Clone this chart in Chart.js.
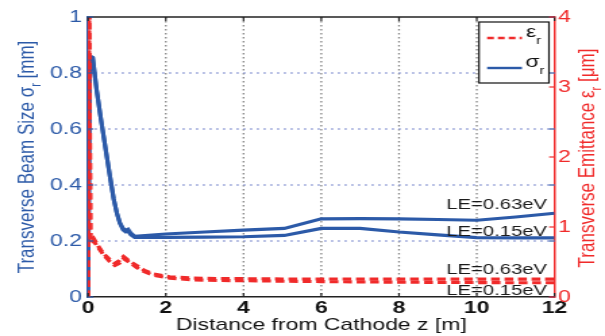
<!DOCTYPE html>
<html>
<head>
<meta charset="utf-8">
<script src="https://cdn.jsdelivr.net/npm/chart.js@4.4.1/dist/chart.umd.min.js"></script>
<style>
  html, body { margin: 0; padding: 0; background: #fff; overflow: hidden; }
  #wrap { width: 448px; height: 336px; transform: scaleX(1.35045); transform-origin: 0 0; }
  canvas { display: block; }
</style>
</head>
<body>
<div id="wrap"><canvas id="c" width="448" height="336"></canvas></div>
<script>
// ---- data ----
const xTickValues = [0, 2, 4, 6, 8, 10, 12];
const sigmaTickValues = [0, 0.2, 0.4, 0.6, 0.8, 1];
const emitTickValues = [0, 1, 2, 3, 4];

// beam size sigma_r [mm] vs z [m]
const zSigma   = [0, 0.05, 0.12, 0.22, 0.33, 0.45, 0.57, 0.66, 0.74, 0.82, 0.9, 0.97, 1.03, 1.1, 1.2, 2, 3, 4, 5.05, 6, 7, 8, 9, 10, 11, 12];
const sigma063 = [0.02, 0.86, 0.855, 0.74, 0.636, 0.53, 0.425, 0.35, 0.30, 0.265, 0.245, 0.238, 0.242, 0.228, 0.217, 0.225, 0.232, 0.239, 0.245, 0.279, 0.28, 0.279, 0.277, 0.274, 0.286, 0.299];
const sigma015 = [0.02, 0.86, 0.855, 0.74, 0.636, 0.53, 0.425, 0.35, 0.30, 0.262, 0.24, 0.233, 0.236, 0.222, 0.213, 0.213, 0.214, 0.215, 0.22, 0.245, 0.245, 0.232, 0.222, 0.212, 0.211, 0.211];

// emittance eps_r [um] vs z [m]
const zEps   = [0, 0.025, 0.06, 0.14, 0.27, 0.4, 0.55, 0.69, 0.8, 0.91, 1.05, 1.25, 1.45, 1.68, 2.1, 2.7, 3.4, 4, 5, 6, 7, 8, 9, 10, 11, 12];
const eps063 = [0, 4.6, 0.8, 0.84, 0.72, 0.62, 0.54, 0.48, 0.52, 0.58, 0.52, 0.45, 0.38, 0.33, 0.29, 0.27, 0.262, 0.262, 0.258, 0.258, 0.256, 0.256, 0.256, 0.255, 0.255, 0.255];
const eps015 = [0, 4.6, 0.78, 0.8, 0.7, 0.6, 0.51, 0.45, 0.48, 0.55, 0.5, 0.42, 0.36, 0.31, 0.27, 0.245, 0.235, 0.232, 0.226, 0.22, 0.215, 0.212, 0.208, 0.206, 0.204, 0.203];

const curveLabels = ['LE=0.63eV', 'LE=0.15eV'];

// ---- style ----
const BLUE = '#2c5aa8';
const RED = '#f02a2a';
const FONT = '"Liberation Sans", Arial, Helvetica, sans-serif';

const pts = (xs, ys) => xs.map((x, i) => ({ x: x, y: ys[i] }));

function drawGrid(chart) {
  const ctx = chart.ctx;
  const a = chart.chartArea;
  const xs = chart.scales.x, ys = chart.scales.y;
  ctx.save();
  ctx.lineWidth = 1.3;
  ctx.setLineDash([1.5, 2.5]);
  ctx.strokeStyle = '#858585';
  xTickValues.slice(1, -1).forEach(v => {
    const px = xs.getPixelForValue(v);
    ctx.beginPath(); ctx.moveTo(px, a.top); ctx.lineTo(px, a.bottom); ctx.stroke();
  });
  ctx.strokeStyle = '#8794d2';
  ctx.setLineDash([1.5, 3.5]);
  sigmaTickValues.slice(1, -1).forEach(v => {
    const py = ys.getPixelForValue(v);
    ctx.beginPath(); ctx.moveTo(a.left, py); ctx.lineTo(a.right, py); ctx.stroke();
  });
  ctx.restore();
}

const framePlugin = {
  id: 'frame',
  beforeDatasetsDraw(chart) { drawGrid(chart); },
  afterDraw(chart) {
    const ctx = chart.ctx;
    const a = chart.chartArea;
    const xs = chart.scales.x, ys = chart.scales.y, y1 = chart.scales.y1;
    ctx.save();
    ctx.strokeStyle = '#222';
    ctx.lineWidth = 1.4;
    ctx.beginPath(); ctx.moveTo(a.left, a.top); ctx.lineTo(a.right, a.top); ctx.stroke();
    const tl = 4;
    ctx.lineWidth = 1.2;
    ctx.strokeStyle = '#222';
    xTickValues.forEach(v => {
      const px = xs.getPixelForValue(v);
      ctx.beginPath(); ctx.moveTo(px, a.bottom); ctx.lineTo(px, a.bottom - tl); ctx.stroke();
      ctx.beginPath(); ctx.moveTo(px, a.top); ctx.lineTo(px, a.top + tl); ctx.stroke();
    });
    ctx.strokeStyle = BLUE;
    sigmaTickValues.forEach(v => {
      const py = ys.getPixelForValue(v);
      ctx.beginPath(); ctx.moveTo(a.left, py); ctx.lineTo(a.left + tl, py); ctx.stroke();
      ctx.beginPath(); ctx.moveTo(a.right, py); ctx.lineTo(a.right - tl, py); ctx.stroke();
    });
    ctx.strokeStyle = RED;
    emitTickValues.forEach(v => {
      const py = y1.getPixelForValue(v);
      ctx.beginPath(); ctx.moveTo(a.right, py); ctx.lineTo(a.right - tl, py); ctx.stroke();
    });

    ctx.textBaseline = 'alphabetic';
    ctx.textAlign = 'left';
    function subText(parts, cx, baseY) {
      let total = 0;
      parts.forEach(p => { ctx.font = p[1] + 'px ' + FONT; total += ctx.measureText(p[0]).width; });
      let x = cx - total / 2;
      parts.forEach(p => {
        ctx.font = p[1] + 'px ' + FONT;
        ctx.fillText(p[0], x, baseY + p[2]);
        x += ctx.measureText(p[0]).width;
      });
    }
    ctx.save();
    ctx.fillStyle = BLUE;
    ctx.translate(24.5, 157);
    ctx.rotate(-Math.PI / 2);
    subText([['Transverse Beam Size σ', 17, 0], ['r', 11, 5], [' [mm]', 17, 0]], 0, 0);
    ctx.restore();
    ctx.save();
    ctx.fillStyle = RED;
    ctx.translate(440, 158);
    ctx.rotate(-Math.PI / 2);
    subText([['Transverse Emittance ε', 17, 0], ['r', 11, 5], [' [μm]', 17, 0]], 0, 0);
    ctx.restore();
    ctx.fillStyle = '#111';
    subText([['Distance from Cathode z [m]', 17, 0]], (a.left + a.right) / 2, 330);

    ctx.font = '15px ' + FONT;
    ctx.textAlign = 'right';
    ctx.textBaseline = 'middle';
    ctx.fillStyle = '#1a1a1a';
    const lx = a.right - 5.5;
    ctx.fillText(curveLabels[0], lx, 205);
    ctx.fillText(curveLabels[1], lx, 232);
    ctx.fillText(curveLabels[0], lx, 270);
    ctx.fillText(curveLabels[1], lx, 290.5);

    const bx = 354.7, by = 22, bw = 51.8, bh = 61;
    ctx.fillStyle = '#fff';
    ctx.fillRect(bx, by, bw, bh);
    ctx.strokeStyle = '#111';
    ctx.lineWidth = 1.2;
    ctx.strokeRect(bx, by, bw, bh);
    ctx.lineWidth = 2.4;
    ctx.strokeStyle = RED;
    ctx.setLineDash([5, 3]);
    ctx.beginPath(); ctx.moveTo(360.7, 38); ctx.lineTo(386.5, 38); ctx.stroke();
    ctx.setLineDash([]);
    ctx.strokeStyle = BLUE;
    ctx.beginPath(); ctx.moveTo(360.7, 68); ctx.lineTo(386.5, 68); ctx.stroke();
    ctx.fillStyle = '#111';
    ctx.textAlign = 'left';
    ctx.textBaseline = 'alphabetic';
    ctx.font = '17px ' + FONT;
    ctx.fillText('ε', 389.5, 37);
    ctx.fillText('σ', 389, 66.5);
    const ew = ctx.measureText('ε').width, sw = ctx.measureText('σ').width;
    ctx.font = '11px ' + FONT;
    ctx.fillText('r', 389.5 + ew, 44);
    ctx.fillText('r', 389 + sw, 74);
    ctx.restore();
  }
};

new Chart(document.getElementById('c'), {
  type: 'line',
  data: {
    datasets: [
      { label: 'eps 0.63', data: pts(zEps, eps063), yAxisID: 'y1', borderColor: RED, borderWidth: 3.1, borderDash: [6.5, 3.5], pointRadius: 0, fill: false, tension: 0, order: 0 },
      { label: 'eps 0.15', data: pts(zEps, eps015), yAxisID: 'y1', borderColor: RED, borderWidth: 3.1, borderDash: [6.5, 3.5], pointRadius: 0, fill: false, tension: 0, order: 0 },
      { label: 'sigma 0.63', data: pts(zSigma, sigma063), yAxisID: 'y', borderColor: BLUE, borderWidth: 3.1, pointRadius: 0, fill: false, tension: 0, order: 1 },
      { label: 'sigma 0.15', data: pts(zSigma, sigma015), yAxisID: 'y', borderColor: BLUE, borderWidth: 3.1, pointRadius: 0, fill: false, tension: 0, order: 1 }
    ]
  },
  options: {
    responsive: false,
    animation: false,
    events: [],
    layout: { padding: { top: 17, left: 0, right: 0, bottom: 0 }, autoPadding: false },
    plugins: { legend: { display: false }, tooltip: { enabled: false }, title: { display: false } },
    scales: {
      x: {
        type: 'linear', min: 0, max: 12,
        afterBuildTicks: s => { s.ticks = xTickValues.map(v => ({ value: v })); },
        afterFit: s => { s.height = 39; },
        ticks: { color: '#111', font: { family: FONT, size: 17, weight: 'bold' }, padding: 1, maxRotation: 0 },
        grid: { display: false, drawTicks: false },
        border: { display: true, color: '#222', width: 1.5 }
      },
      y: {
        type: 'linear', position: 'left', min: 0, max: 1,
        afterBuildTicks: s => { s.ticks = sigmaTickValues.map(v => ({ value: v })); },
        afterFit: s => { s.width = 65.2; },
        ticks: { color: BLUE, font: { family: FONT, size: 17 }, padding: 4.5, callback: v => String(v) },
        grid: { display: false, drawTicks: false },
        border: { display: true, color: BLUE, width: 1.5 }
      },
      y1: {
        type: 'linear', position: 'right', min: 0, max: 4,
        afterBuildTicks: s => { s.ticks = emitTickValues.map(v => ({ value: v })); },
        afterFit: s => { s.width = 37.4; },
        ticks: { color: RED, font: { family: FONT, size: 17 }, padding: 2.6, callback: v => String(v) },
        grid: { display: false, drawTicks: false },
        border: { display: true, color: RED, width: 1.5 }
      }
    }
  },
  plugins: [framePlugin]
});
</script>
</body>
</html>
